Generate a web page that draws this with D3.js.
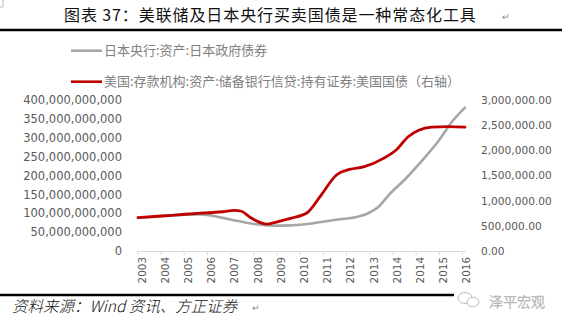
<!DOCTYPE html>
<html>
<head>
<meta charset="utf-8">
<script src="https://cdn.jsdelivr.net/npm/d3@7/dist/d3.min.js"></script>
<style>
  html, body { margin: 0; padding: 0; background: #fff; }
  svg { display: block; }
</style>
</head>
<body>
<svg id="chart" width="562" height="326"></svg>
<script>
// Bank of Japan: assets, Japanese government bonds (left axis)
const boj = [
  [2003.0, 88e9], [2004.0, 92e9], [2005.0, 96e9], [2005.7, 97e9],
  [2006.5, 89e9], [2007.2, 80e9], [2008.0, 71e9], [2008.7, 67e9],
  [2009.5, 68e9], [2010.3, 72e9], [2011.0, 79e9], [2011.6, 84e9],
  [2012.3, 90e9], [2012.8, 100e9], [2013.2, 115e9], [2013.7, 150e9],
  [2014.4, 192e9], [2015.1, 240e9], [2015.8, 292e9], [2016.4, 345e9],
  [2016.92, 380e9]
];

// US depository institutions: Treasury securities held (right axis)
const usTreasury = [
  [2003.0, 662000], [2004.0, 695000], [2005.0, 730000], [2006.0, 760000],
  [2006.6, 780000], [2007.1, 808000], [2007.4, 790000], [2007.8, 660000],
  [2008.5, 535000], [2009.0, 590000], [2009.5, 650000], [2010.2, 760000],
  [2010.75, 1080000], [2011.45, 1510000], [2012.0, 1620000], [2012.6, 1670000],
  [2013.45, 1840000], [2014.0, 2010000], [2014.5, 2270000], [2014.95, 2400000],
  [2015.5, 2460000], [2016.2, 2470000], [2016.92, 2460000]
];

const xLabels = ["2003","2004","2005","2006","2007","2008","2009","2010",
                 "2011","2012","2013","2014","2014","2015","2016"];
const leftTicks = [0, 50e9, 100e9, 150e9, 200e9, 250e9, 300e9, 350e9, 400e9];
const rightTicks = [0, 500000, 1000000, 1500000, 2000000, 2500000, 3000000];

const legendNames = ["日本央行:资产:日本政府债券",
                     "美国:存款机构:资产:储备银行信贷:持有证券:美国国债（右轴）"];
const titleText = "图表 37：美联储及日本央行买卖国债是一种常态化工具";
const sourceText = "资料来源：Wind 资讯、方正证券";

const svg = d3.select("#chart");
const CJK = "'Noto Sans CJK SC', 'Noto Sans', sans-serif";
const TICK_FONT = "'DejaVu Sans', Verdana, sans-serif";
const GREY = "#a6a6a6", RED = "#c00000", TICK_COLOR = "#595959";

// scales
const xTime = d3.scaleLinear().domain([2003, 2016.92]).range([138, 465]);
const xTick = d3.scaleLinear().domain([0, xLabels.length - 1]).range([137.3, 462]);
const yLeft = d3.scaleLinear().domain([0, 400e9]).range([251, 100]);
const yRight = d3.scaleLinear().domain([0, 3e6]).range([251, 100]);

// corner mark
svg.append("path").attr("d", "M3,0 V7 H0").attr("fill", "none")
  .attr("stroke", "#bbb").attr("stroke-width", 1);

// title
svg.append("text").attr("x", 64).attr("y", 21)
  .attr("font-family", CJK).attr("font-size", 16).attr("font-weight", 400)
  .attr("letter-spacing", 0.9).attr("fill", "#111").text(titleText);
svg.append("text").attr("x", 502).attr("y", 20)
  .attr("font-family", CJK).attr("font-size", 9).attr("fill", "#888").text("↵");
svg.append("line").attr("x1", 0).attr("x2", 562).attr("y1", 30).attr("y2", 30)
  .attr("stroke", "#000").attr("stroke-width", 2.6);

// legend
const legend = svg.append("g");
[[GREY, 50.7], [RED, 81.7]].forEach(([c, y], i) => {
  legend.append("line").attr("x1", 71).attr("x2", 102).attr("y1", y).attr("y2", y)
    .attr("stroke", c).attr("stroke-width", 2.6);
  legend.append("text").attr("x", 104).attr("y", y).attr("dy", "0.36em")
    .attr("font-family", CJK).attr("font-size", 13).attr("fill", "#808080")
    .text(legendNames[i]);
});

// left axis
const gL = svg.append("g").attr("transform", "translate(127,0)")
  .call(d3.axisLeft(yLeft).tickValues(leftTicks).tickFormat(d3.format(","))
    .tickSize(0).tickPadding(5));
gL.select(".domain").remove();
gL.selectAll("text").attr("font-family", TICK_FONT).attr("font-size", 11.5)
  .attr("fill", TICK_COLOR);

// right axis
const gR = svg.append("g").attr("transform", "translate(476,0)")
  .call(d3.axisRight(yRight).tickValues(rightTicks).tickFormat(d3.format(",.2f"))
    .tickSize(0).tickPadding(5));
gR.select(".domain").remove();
gR.selectAll("text").attr("font-family", TICK_FONT).attr("font-size", 10.6)
  .attr("fill", TICK_COLOR);

// bottom category axis
const gX = svg.append("g").attr("transform", "translate(0,251)")
  .call(d3.axisBottom(xTick).tickValues(d3.range(xLabels.length))
    .tickFormat(i => xLabels[i]).tickSize(4).tickSizeOuter(0));
gX.select(".domain").attr("d", "M137,0.5H466").attr("stroke", "#d9d9d9");
gX.selectAll(".tick line").attr("stroke", "#d9d9d9");
gX.selectAll("text")
  .attr("font-family", TICK_FONT).attr("font-size", 10.4).attr("fill", TICK_COLOR)
  .attr("transform", "rotate(-90)").attr("text-anchor", "end")
  .attr("x", -6).attr("y", 0).attr("dy", "0.75em");

// series lines
const lineL = d3.line().x(d => xTime(d[0])).y(d => yLeft(d[1])).curve(d3.curveMonotoneX);
const lineR = d3.line().x(d => xTime(d[0])).y(d => yRight(d[1])).curve(d3.curveMonotoneX);
svg.append("path").datum(boj).attr("d", lineL).attr("fill", "none")
  .attr("stroke", GREY).attr("stroke-width", 2.6).attr("stroke-linecap", "round");
svg.append("path").datum(usTreasury).attr("d", lineR).attr("fill", "none")
  .attr("stroke", RED).attr("stroke-width", 2.8).attr("stroke-linecap", "round");

// footer
svg.append("line").attr("x1", 0).attr("x2", 562).attr("y1", 295).attr("y2", 295)
  .attr("stroke", "#000").attr("stroke-width", 2.4);
svg.append("text").attr("x", 12).attr("y", 312)
  .attr("font-family", CJK).attr("font-size", 15.5).attr("font-style", "italic")
  .attr("font-weight", 300).attr("fill", "#111").text(sourceText);
svg.append("text").attr("x", 252).attr("y", 311)
  .attr("font-family", CJK).attr("font-size", 9).attr("fill", "#888").text("↵");

// signature badge
const badge = svg.append("g");
badge.append("rect").attr("x", 454).attr("y", 289).attr("width", 108).attr("height", 22)
  .attr("fill", "#fff");
badge.append("ellipse").attr("cx", 465).attr("cy", 298).attr("rx", 7).attr("ry", 5.5)
  .attr("fill", "#fff").attr("stroke", "#bbb").attr("stroke-width", 1);
badge.append("ellipse").attr("cx", 473).attr("cy", 302).attr("rx", 6).attr("ry", 4.8)
  .attr("fill", "#fff").attr("stroke", "#bbb").attr("stroke-width", 1);
badge.append("text").attr("x", 489).attr("y", 307)
  .attr("font-family", CJK).attr("font-size", 14).attr("font-weight", 300)
  .attr("fill", "#fff").attr("stroke", "#aaa").attr("stroke-width", 0.5).text("泽平宏观");
</script>
</body>
</html>
